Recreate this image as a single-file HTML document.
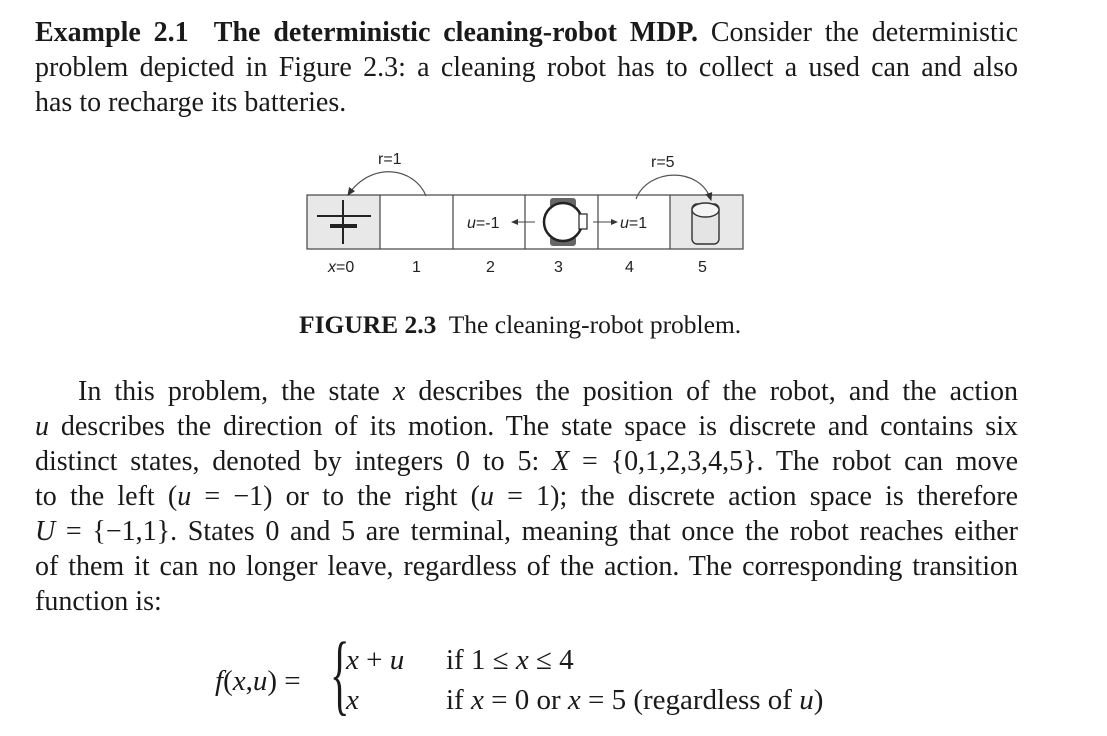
<!DOCTYPE html>
<html><head><meta charset="utf-8"><style>
body{margin:0;width:1107px;height:736px;background:#fff;position:relative;overflow:hidden;font-family:"Liberation Serif",serif;color:#1a1a1a}
.l{position:absolute;left:35px;width:983px;font-size:28px;line-height:30px;text-align:justify;text-align-last:justify;white-space:nowrap}
.nl{text-align-last:left}
i{font-style:italic}
.m{position:absolute;font-size:29px;white-space:nowrap;line-height:30px}
</style></head><body>
<div class="l" style="top:18px"><b>Example 2.1&nbsp; The deterministic cleaning-robot MDP.</b> Consider the deterministic</div>
<div class="l" style="top:53px">problem depicted in Figure 2.3: a cleaning robot has to collect a used can and also</div>
<div class="l nl" style="top:88px">has to recharge its batteries.</div>

<svg style="position:absolute;left:0;top:0" width="1107" height="300">
<defs><marker id="a" markerWidth="8" markerHeight="8" refX="6" refY="4" orient="auto"><path d="M0,1 L7,4 L0,7 Z" fill="#333"/></marker></defs>
<rect x="307" y="195" width="73" height="54" fill="#e8e8e8"/>
<rect x="670" y="195" width="73" height="54" fill="#e8e8e8"/>
<rect x="307" y="195" width="436" height="54" fill="none" stroke="#444" stroke-width="1.2"/>
<g stroke="#444" stroke-width="1.2"><line x1="380" y1="195" x2="380" y2="249"/><line x1="453" y1="195" x2="453" y2="249"/><line x1="525" y1="195" x2="525" y2="249"/><line x1="598" y1="195" x2="598" y2="249"/><line x1="670" y1="195" x2="670" y2="249"/></g>
<g stroke="#222"><line x1="317" y1="216" x2="371" y2="216" stroke-width="2"/><line x1="343" y1="200" x2="343" y2="244" stroke-width="2"/><line x1="330" y1="226" x2="357" y2="226" stroke-width="4"/></g>
<path d="M426,196 C415,168 372,160 348,195" fill="none" stroke="#555" stroke-width="1.2" marker-end="url(#a)"/>
<path d="M636,199 C648,168 700,166 711,200" fill="none" stroke="#555" stroke-width="1.2" marker-end="url(#a)"/>
<rect x="550" y="198" width="26" height="10" rx="3" fill="#666"/>
<rect x="550" y="236" width="26" height="10" rx="3" fill="#666"/>
<circle cx="563" cy="222" r="19" fill="#fff" stroke="#222" stroke-width="2.5"/>
<rect x="579" y="214" width="8" height="15" fill="#fff" stroke="#222" stroke-width="1.2"/>
<line x1="535" y1="222" x2="512" y2="222" stroke="#444" stroke-width="1" marker-end="url(#a)"/>
<line x1="593" y1="222" x2="617" y2="222" stroke="#444" stroke-width="1" marker-end="url(#a)"/>
<rect x="692" y="204" width="27" height="40" rx="5" fill="#e4e4e4" stroke="#333" stroke-width="1.4"/>
<ellipse cx="705.5" cy="210" rx="13.5" ry="7" fill="#f4f4f4" stroke="#333" stroke-width="1.4"/>
<g font-family="Liberation Sans,sans-serif" font-size="16" fill="#222">
<text x="378" y="164">r=1</text><text x="651" y="167">r=5</text>
<text x="467" y="228"><tspan font-style="italic">u</tspan>=-1</text>
<text x="620" y="228"><tspan font-style="italic">u</tspan>=1</text>
<text x="328" y="272"><tspan font-style="italic">x</tspan>=0</text>
<text x="412" y="272">1</text><text x="486" y="272">2</text><text x="554" y="272">3</text><text x="625" y="272">4</text><text x="698" y="272">5</text>
</g></svg>

<div style="position:absolute;left:299px;top:310px;font-size:25.5px;white-space:nowrap"><b>FIGURE 2.3</b>&nbsp; The cleaning-robot problem.</div>

<div class="l" style="top:377px;left:78px;width:940px">In this problem, the state <i>x</i> describes the position of the robot, and the action</div>
<div class="l" style="top:412px"><i>u</i> describes the direction of its motion. The state space is discrete and contains six</div>
<div class="l" style="top:447px">distinct states, denoted by integers 0 to 5: <i>X</i> = {0,1,2,3,4,5}. The robot can move</div>
<div class="l" style="top:482px">to the left (<i>u</i> = &minus;1) or to the right (<i>u</i> = 1); the discrete action space is therefore</div>
<div class="l" style="top:517px"><i>U</i> = {&minus;1,1}. States 0 and 5 are terminal, meaning that once the robot reaches either</div>
<div class="l" style="top:552px">of them it can no longer leave, regardless of the action. The corresponding transition</div>
<div class="l nl" style="top:587px">function is:</div>

<div class="m" style="left:215px;top:666px"><i>f</i>(<i>x</i>,<i>u</i>) =</div>
<div class="m" style="left:330px;top:630px;font-size:90px;line-height:90px;transform:scaleX(0.45);transform-origin:left top;font-weight:100">{</div>
<div class="m" style="left:346px;top:645px"><i>x</i> + <i>u</i></div>
<div class="m" style="left:446px;top:645px">if 1 &le; <i>x</i> &le; 4</div>
<div class="m" style="left:346px;top:685px"><i>x</i></div>
<div class="m" style="left:446px;top:685px">if <i>x</i> = 0 or <i>x</i> = 5 (regardless of <i>u</i>)</div>
</body></html>
